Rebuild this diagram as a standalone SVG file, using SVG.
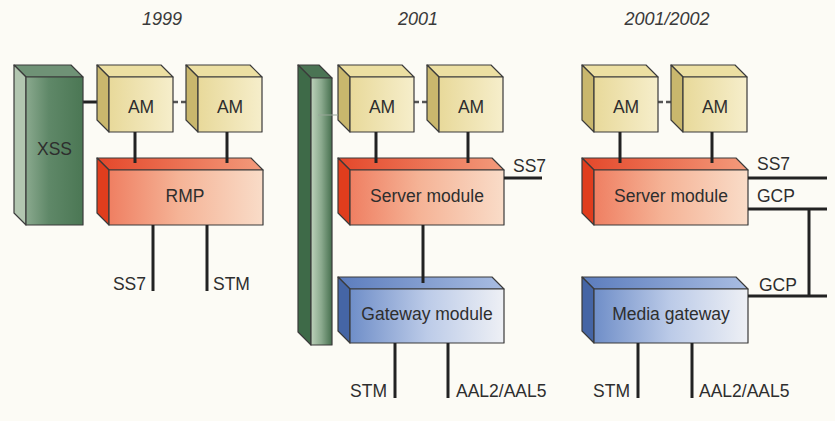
<svg xmlns="http://www.w3.org/2000/svg" width="835" height="421" viewBox="0 0 835 421">
  <defs>
    <linearGradient id="amFront" x1="0" y1="0" x2="1" y2="0">
      <stop offset="0" stop-color="#e8d99a"/>
      <stop offset="1" stop-color="#f6eecb"/>
    </linearGradient>
    <linearGradient id="redFront" x1="0" y1="0" x2="1" y2="0">
      <stop offset="0" stop-color="#ef7f62"/>
      <stop offset="0.45" stop-color="#f5b396"/>
      <stop offset="1" stop-color="#f9dcc8"/>
    </linearGradient>
    <linearGradient id="redTop" x1="0" y1="0" x2="1" y2="0">
      <stop offset="0" stop-color="#e4472a"/>
      <stop offset="1" stop-color="#f39b7c"/>
    </linearGradient>
    <linearGradient id="blueFront" x1="0" y1="0" x2="1" y2="0">
      <stop offset="0" stop-color="#6f8ec8"/>
      <stop offset="0.5" stop-color="#bccbe8"/>
      <stop offset="1" stop-color="#eef0f5"/>
    </linearGradient>
    <linearGradient id="blueTop" x1="0" y1="0" x2="1" y2="0">
      <stop offset="0" stop-color="#5b7cbd"/>
      <stop offset="1" stop-color="#a9bde2"/>
    </linearGradient>
    <linearGradient id="xssFront" x1="0" y1="0" x2="1" y2="0">
      <stop offset="0" stop-color="#8aa98e"/>
      <stop offset="0.4" stop-color="#5f8868"/>
      <stop offset="1" stop-color="#4b7754"/>
    </linearGradient>
    <linearGradient id="barFront" x1="0" y1="0" x2="1" y2="0">
      <stop offset="0" stop-color="#bdd1ba"/>
      <stop offset="0.5" stop-color="#8aa98d"/>
      <stop offset="1" stop-color="#466f4e"/>
    </linearGradient>
    <style>
      .edge { stroke: #3a3a3a; stroke-width: 1.2; stroke-linejoin: round; }
      .amTop { fill: #ecdfa2; }
      .amLeft { fill: #c9b76d; }
      .amFront { fill: url(#amFront); }
      .redTop { fill: url(#redTop); }
      .redLeft { fill: #e03d1d; }
      .redFront { fill: url(#redFront); }
      .blueTop { fill: url(#blueTop); }
      .blueLeft { fill: #4565a5; }
      .blueFront { fill: url(#blueFront); }
      .link { stroke: #222; stroke-width: 3; fill: none; }
      .dash { stroke: #555; stroke-width: 2.5; stroke-dasharray: 5 3; fill: none; }
      .faint { stroke: #98a698; stroke-width: 1; fill: none; }
      text { font-family: "Liberation Sans", Arial, sans-serif; fill: #2e2e2e; }
      .lbl { font-size: 17.5px; }
      .year { font-size: 18px; font-style: italic; text-anchor: middle; fill: #3a3a3a; }
      .mid { text-anchor: middle; }
      .end { text-anchor: end; }
    </style>
  </defs>

  <rect width="835" height="421" fill="#fcfbf5"/>

  <!-- column headings -->
  <g id="headings">
    <text class="year" x="162" y="25">1999</text>
    <text class="year" x="418" y="25">2001</text>
    <text class="year" x="667" y="25">2001/2002</text>
  </g>

  <!-- links that pass behind the boxes -->
  <g id="connectors-under">
    <line class="link" x1="83" y1="102" x2="104" y2="102"/>
    <line class="dash" x1="173" y1="102" x2="190" y2="102"/>
    <line class="dash" x1="414" y1="102" x2="431" y2="102"/>
    <line class="dash" x1="658" y1="102" x2="675" y2="102"/>
  </g>

  <!-- 1999 -->
  <g id="xss">
    <polygon class="edge" fill="#6f9276" points="14,65 71,65 83,77 26,77"/>
    <polygon class="edge" fill="#b2c6b0" points="14,65 26,77 26,225 14,213"/>
    <rect class="edge" fill="url(#xssFront)" x="26" y="77" width="57" height="148"/>
    <text class="lbl mid" x="54.5" y="155">XSS</text>
  </g>
  <g id="am-1999-a">
    <polygon class="edge amTop" points="97,65 161,65 173,77 109,77"/>
    <polygon class="edge amLeft" points="97,65 109,77 109,132 97,120"/>
    <rect class="edge amFront" x="109" y="77" width="64" height="55"/>
    <text class="lbl mid" x="141" y="113">AM</text>
  </g>
  <g id="am-1999-b">
    <polygon class="edge amTop" points="186,65 250,65 262,77 198,77"/>
    <polygon class="edge amLeft" points="186,65 198,77 198,132 186,120"/>
    <rect class="edge amFront" x="198" y="77" width="64" height="55"/>
    <text class="lbl mid" x="230" y="113">AM</text>
  </g>
  <g id="rmp">
    <polygon class="edge redTop" points="97,158 251,158 263,170 109,170"/>
    <polygon class="edge redLeft" points="97,158 109,170 109,225 97,213"/>
    <rect class="edge redFront" x="109" y="170" width="154" height="55"/>
    <text class="lbl mid" x="185" y="202">RMP</text>
  </g>

  <!-- 2001 -->
  <g id="switch-bar">
    <polygon class="edge" fill="#4b7454" points="298,65 319,65 332,78 311,78"/>
    <polygon class="edge" fill="#3e6a48" points="298,65 311,78 311,345 298,332"/>
    <rect class="edge" fill="url(#barFront)" x="311" y="78" width="21" height="267"/>
  </g>
  <g id="am-2001-a">
    <polygon class="edge amTop" points="338,65 402,65 414,77 350,77"/>
    <polygon class="edge amLeft" points="338,65 350,77 350,132 338,120"/>
    <rect class="edge amFront" x="350" y="77" width="64" height="55"/>
    <text class="lbl mid" x="382" y="113">AM</text>
  </g>
  <g id="am-2001-b">
    <polygon class="edge amTop" points="427,65 491,65 503,77 439,77"/>
    <polygon class="edge amLeft" points="427,65 439,77 439,132 427,120"/>
    <rect class="edge amFront" x="439" y="77" width="64" height="55"/>
    <text class="lbl mid" x="471" y="113">AM</text>
  </g>
  <g id="server-2001">
    <polygon class="edge redTop" points="338,158 492,158 504,170 350,170"/>
    <polygon class="edge redLeft" points="338,158 350,170 350,225 338,213"/>
    <rect class="edge redFront" x="350" y="170" width="154" height="55"/>
    <text class="lbl mid" x="427" y="202">Server module</text>
  </g>
  <g id="gateway-2001">
    <polygon class="edge blueTop" points="338,277 492,277 504,289 350,289"/>
    <polygon class="edge blueLeft" points="338,277 350,289 350,343 338,331"/>
    <rect class="edge blueFront" x="350" y="289" width="154" height="54"/>
    <text class="lbl mid" x="427" y="320">Gateway module</text>
  </g>

  <!-- 2001/2002 -->
  <g id="am-2002-a">
    <polygon class="edge amTop" points="582,65 646,65 658,77 594,77"/>
    <polygon class="edge amLeft" points="582,65 594,77 594,132 582,120"/>
    <rect class="edge amFront" x="594" y="77" width="64" height="55"/>
    <text class="lbl mid" x="626" y="113">AM</text>
  </g>
  <g id="am-2002-b">
    <polygon class="edge amTop" points="671,65 735,65 747,77 683,77"/>
    <polygon class="edge amLeft" points="671,65 683,77 683,132 671,120"/>
    <rect class="edge amFront" x="683" y="77" width="64" height="55"/>
    <text class="lbl mid" x="715" y="113">AM</text>
  </g>
  <g id="server-2002">
    <polygon class="edge redTop" points="582,158 736,158 748,170 594,170"/>
    <polygon class="edge redLeft" points="582,158 594,170 594,225 582,213"/>
    <rect class="edge redFront" x="594" y="170" width="154" height="55"/>
    <text class="lbl mid" x="671" y="202">Server module</text>
  </g>
  <g id="media-gateway">
    <polygon class="edge blueTop" points="582,277 736,277 748,289 594,289"/>
    <polygon class="edge blueLeft" points="582,277 594,289 594,343 582,331"/>
    <rect class="edge blueFront" x="594" y="289" width="154" height="54"/>
    <text class="lbl mid" x="671" y="320">Media gateway</text>
  </g>

  <!-- links drawn over the boxes -->
  <g id="connectors">
    <line class="faint" x1="318" y1="115" x2="338" y2="115"/>
    <!-- 1999 -->
    <line class="link" x1="135" y1="132" x2="135" y2="163"/>
    <line class="link" x1="227" y1="132" x2="227" y2="163"/>
    <line class="link" x1="153" y1="225" x2="153" y2="291"/>
    <line class="link" x1="207" y1="225" x2="207" y2="291"/>
    <!-- 2001 -->
    <line class="link" x1="376" y1="132" x2="376" y2="163"/>
    <line class="link" x1="468" y1="132" x2="468" y2="163"/>
    <line class="link" x1="504" y1="178" x2="542" y2="178"/>
    <line class="link" x1="423" y1="225" x2="423" y2="283"/>
    <line class="link" x1="395" y1="343" x2="395" y2="398"/>
    <line class="link" x1="448" y1="343" x2="448" y2="398"/>
    <!-- 2001/2002 -->
    <line class="link" x1="620" y1="132" x2="620" y2="163"/>
    <line class="link" x1="712" y1="132" x2="712" y2="163"/>
    <line class="link" x1="748" y1="178" x2="827" y2="178"/>
    <line class="link" x1="748" y1="209" x2="827" y2="209"/>
    <line class="link" x1="809" y1="209" x2="809" y2="296"/>
    <line class="link" x1="748" y1="296" x2="827" y2="296"/>
    <line class="link" x1="638" y1="343" x2="638" y2="398"/>
    <line class="link" x1="692" y1="343" x2="692" y2="398"/>
  </g>

  <!-- interface labels -->
  <g id="labels">
    <text class="lbl end" x="146" y="290">SS7</text>
    <text class="lbl" x="213" y="290">STM</text>
    <text class="lbl" x="513" y="172">SS7</text>
    <text class="lbl end" x="387" y="397">STM</text>
    <text class="lbl" x="456" y="397">AAL2/AAL5</text>
    <text class="lbl" x="757" y="170">SS7</text>
    <text class="lbl" x="757" y="202">GCP</text>
    <text class="lbl" x="759" y="291">GCP</text>
    <text class="lbl end" x="630" y="397">STM</text>
    <text class="lbl" x="699" y="397">AAL2/AAL5</text>
  </g>
</svg>
